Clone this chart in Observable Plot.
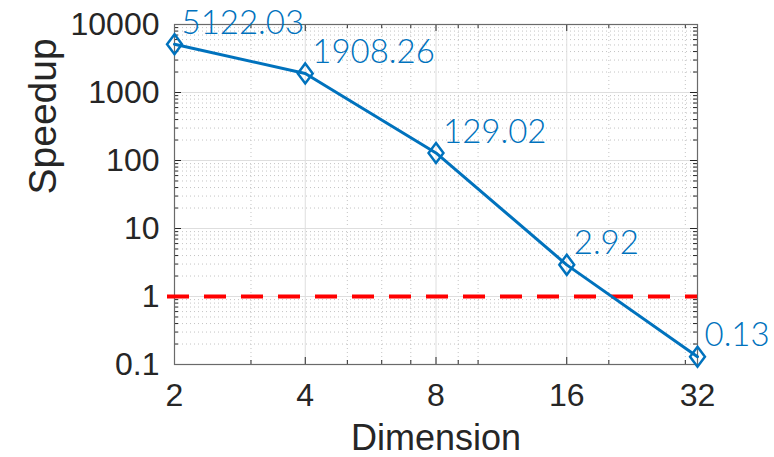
<!DOCTYPE html>
<html><head><meta charset="utf-8">
<script src="https://cdn.jsdelivr.net/npm/d3@7"></script>
<script src="https://cdn.jsdelivr.net/npm/@observablehq/plot@0.6"></script>
<style>html,body{margin:0;padding:0;background:#fff}</style>
</head><body><div id="chart"></div>
<script>
const dimensions = [2, 4, 8, 16, 32];
const speedups = [5122.03, 1908.26, 129.02, 2.92, 0.13];
const speedupLabels = ["5122.03", "1908.26", "129.02", "2.92", "0.13"];
const xTicks = [2, 4, 8, 16, 32];
const xTickLabels = ["2", "4", "8", "16", "32"];
const xMinorTicks = [3, 5, 6, 7, 9, 10, 20, 30];
const yTicks = [0.1, 1, 10, 100, 1000, 10000];
const yTickLabels = ["0.1", "1", "10", "100", "1000", "10000"];
const yMinorTicks = [0.2, 0.3, 0.4, 0.5, 0.6, 0.7, 0.8, 0.9,
  2, 3, 4, 5, 6, 7, 8, 9,
  20, 30, 40, 50, 60, 70, 80, 90,
  200, 300, 400, 500, 600, 700, 800, 900,
  2000, 3000, 4000, 5000, 6000, 7000, 8000, 9000];
const baseline = [1];
const xDomain = [2, 32];
const yDomain = [0.1, 10000];

const data = dimensions.map((d, i) => ({dim: d, speedup: speedups[i], label: speedupLabels[i]}));
const blue = "#0072BD";
const axisColor = "#262626";

// MATLAB-like diamond marker (rhombus, a bit taller than wide)
const rhombus = {
  draw(context, size) {
    const r = Math.sqrt(size / Math.PI);
    const h = r * 1.25, w = r * 0.93;
    context.moveTo(0, -h);
    context.lineTo(w, 0);
    context.lineTo(0, h);
    context.lineTo(-w, 0);
    context.closePath();
  }
};

const chart = Plot.plot({
  width: 774,
  height: 457,
  marginLeft: 174,
  marginRight: 77,
  marginTop: 24,
  marginBottom: 93,
  style: {fontFamily: "'Liberation Sans', Arial, sans-serif", background: "#fff", overflow: "visible"},
  x: {type: "log", domain: xDomain},
  y: {type: "log", domain: yDomain},
  marks: [
    Plot.ruleY(yMinorTicks, {stroke: "#c4c4c4", strokeWidth: 1, strokeDasharray: "1,3"}),
    Plot.ruleX(xMinorTicks, {stroke: "#c4c4c4", strokeWidth: 1, strokeDasharray: "1,3"}),
    Plot.ruleY(yTicks, {stroke: "#dedede", strokeWidth: 1}),
    Plot.ruleX(xTicks, {stroke: "#dedede", strokeWidth: 1}),
    // inward tick marks
    Plot.ruleX(xTicks, {y1: yDomain[0], y2: yDomain[0], insetTop: -7, stroke: axisColor, strokeWidth: 1}),
    Plot.ruleX(xTicks, {y1: yDomain[1], y2: yDomain[1], insetBottom: -7, stroke: axisColor, strokeWidth: 1}),
    Plot.ruleX(xMinorTicks, {y1: yDomain[0], y2: yDomain[0], insetTop: -4, stroke: axisColor, strokeWidth: 1}),
    Plot.ruleX(xMinorTicks, {y1: yDomain[1], y2: yDomain[1], insetBottom: -4, stroke: axisColor, strokeWidth: 1}),
    Plot.ruleY(yTicks, {x1: xDomain[0], x2: xDomain[0], insetRight: -7, stroke: axisColor, strokeWidth: 1}),
    Plot.ruleY(yTicks, {x1: xDomain[1], x2: xDomain[1], insetLeft: -7, stroke: axisColor, strokeWidth: 1}),
    Plot.ruleY(yMinorTicks, {x1: xDomain[0], x2: xDomain[0], insetRight: -4, stroke: axisColor, strokeWidth: 1}),
    Plot.ruleY(yMinorTicks, {x1: xDomain[1], x2: xDomain[1], insetLeft: -4, stroke: axisColor, strokeWidth: 1}),
    Plot.frame({stroke: "#6a6a6a", strokeWidth: 1.2}),
    Plot.ruleY(baseline, {stroke: "#ff0000", strokeWidth: 4, strokeDasharray: "22,15", insetLeft: -7}),
    Plot.line(data, {x: "dim", y: "speedup", stroke: blue, strokeWidth: 3}),
    Plot.dot(data, {x: "dim", y: "speedup", symbol: rhombus, r: 8, stroke: blue, strokeWidth: 2.5, fill: "none"}),
    Plot.text(data, {x: "dim", y: "speedup", text: "label", textAnchor: "start", dx: 7, dy: -21,
      fill: blue, fontSize: 33, fontFamily: "Lato, 'Open Sans', sans-serif", fontWeight: 300}),
    Plot.axisX({ticks: xTicks, tickFormat: (d) => xTickLabels[xTicks.indexOf(d)], tickSize: 0, tickPadding: 19,
      fontSize: 32, color: axisColor, label: null}),
    Plot.axisY({ticks: yTicks, tickFormat: (d) => yTickLabels[yTicks.indexOf(d)], tickSize: 0, tickPadding: 15,
      fontSize: 32, color: axisColor, label: null}),
    Plot.text(["Speedup"], {frameAnchor: "left", lineAnchor: "middle", rotate: -90, dx: -131, fontSize: 39, fill: axisColor}),
    Plot.text(["Dimension"], {frameAnchor: "bottom", lineAnchor: "middle", dy: 74, fontSize: 36, fill: axisColor})
  ]
});
document.getElementById("chart").appendChild(chart);
</script>
</body></html>
